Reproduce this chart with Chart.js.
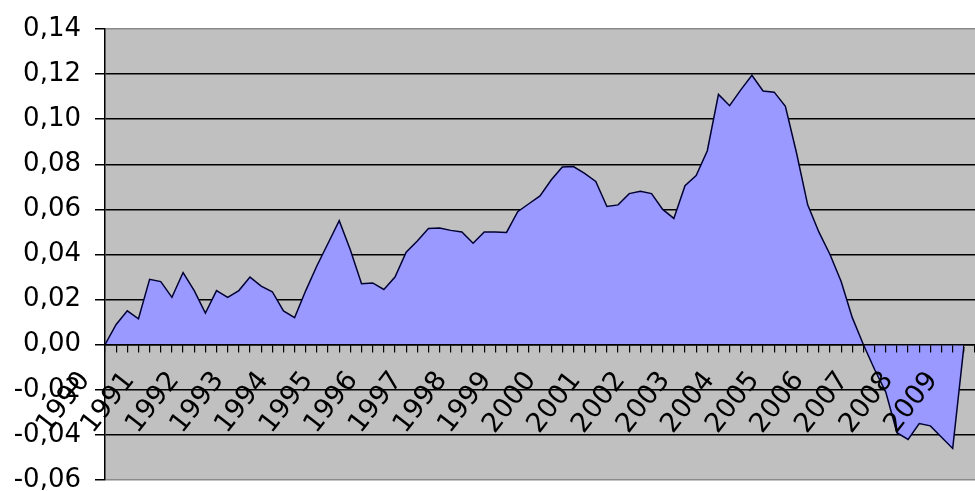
<!DOCTYPE html>
<html>
<head>
<meta charset="utf-8">
<script src="https://cdn.jsdelivr.net/npm/chart.js@4"></script>
<style>
  html, body { margin: 0; padding: 0; background: #ffffff; }
  #wrap { width: 975px; height: 491px; position: relative; }
</style>
</head>
<body>
<div id="wrap"><canvas id="spreadChart"></canvas></div>
<script>
// Year labels, one every 4 quarters
const yearLabels = ['1990', '1991', '1992', '1993', '1994', '1995', '1996', '1997', '1998', '1999',
                    '2000', '2001', '2002', '2003', '2004', '2005', '2006', '2007', '2008', '2009'];
const quartersPerYear = 4;
const categoryCount = 79;

// Quarterly values
const values = [
    0.000, 0.009, 0.015, 0.0115, 0.029, 0.028, 0.021, 0.032, 0.024, 0.014,
    0.024, 0.021, 0.024, 0.030, 0.026, 0.0235, 0.015, 0.012, 0.024, 0.035,
    0.045, 0.055, 0.042, 0.027, 0.0274, 0.0245, 0.030, 0.041, 0.046, 0.0515,
    0.0517, 0.0507, 0.050, 0.045, 0.050, 0.050, 0.0498, 0.059, 0.0625, 0.066,
    0.073, 0.0788, 0.079, 0.076, 0.0724, 0.0613, 0.062, 0.067, 0.068, 0.067,
    0.060, 0.056, 0.0705, 0.075, 0.086, 0.111, 0.106, 0.113, 0.1195, 0.1125,
    0.112, 0.1057, 0.085, 0.062, 0.050, 0.040, 0.028, 0.012, 0.000, -0.011,
    -0.021, -0.039, -0.042, -0.035, -0.036, -0.041, -0.046, -0.001, null
];

// Y axis range
const yMin = -0.06;
const yMax = 0.14;
const yStep = 0.02;

// Build category labels: year text on every 4th quarter, blank otherwise
const categories = [];
for (let i = 0; i < categoryCount; i++) {
    const y = i / quartersPerYear;
    categories.push(i % quartersPerYear === 0 && yearLabels[y] ? yearLabels[y] : '');
}

// Grey plot background
const plotBackground = {
    id: 'plotBackground',
    beforeDraw(chart) {
        const { ctx, chartArea } = chart;
        ctx.save();
        ctx.fillStyle = '#c0c0c0';
        ctx.fillRect(chartArea.left, chartArea.top, chartArea.right - chartArea.left, chartArea.bottom - chartArea.top);
        ctx.restore();
    }
};

new Chart(document.getElementById('spreadChart'), {
    type: 'line',
    data: {
        labels: categories,
        datasets: [{
            data: values,
            fill: 'origin',
            backgroundColor: '#9999ff',
            borderColor: '#000033',
            borderWidth: 1.5,
            pointRadius: 0,
            tension: 0
        }]
    },
    options: {
        responsive: true,
        maintainAspectRatio: false,
        animation: false,
        layout: { padding: { top: 29, bottom: 11, left: 0, right: 0 } },
        plugins: {
            legend: { display: false },
            tooltip: { enabled: false }
        },
        scales: {
            x: {
                position: { y: 0 },
                offset: false,
                afterFit(scale) {
                    scale.paddingLeft = 0;
                    scale.paddingRight = 0;
                },
                grid: {
                    z: 1,
                    drawOnChartArea: false,
                    drawTicks: true,
                    tickLength: 7,
                    color: '#000000',
                    lineWidth: 1.2
                },
                border: { z: 1, display: true, color: '#000000', width: 1.5 },
                ticks: {
                    z: 1,
                    autoSkip: false,
                    minRotation: 52,
                    maxRotation: 52,
                    padding: 14,
                    labelOffset: -20,
                    color: '#000000',
                    font: { family: 'DejaVu Sans', size: 27 }
                }
            },
            y: {
                min: yMin,
                max: yMax,
                afterFit(scale) {
                    scale.width = 105;
                    scale.paddingTop = 0;
                    scale.paddingBottom = 0;
                },
                grid: {
                    color: ctx => (Math.abs(ctx.tick.value - yMax) < 1e-6 || Math.abs(ctx.tick.value - yMin) < 1e-6) ? '#8a8a8a' : '#000000',
                    lineWidth: 1.5,
                    tickColor: '#000000',
                    tickLength: 10
                },
                border: { display: true, color: '#000000', width: 1.5 },
                ticks: {
                    stepSize: yStep,
                    padding: 14,
                    color: '#000000',
                    font: { family: 'DejaVu Sans', size: 26 },
                    callback: v => v.toFixed(2).replace('.', ',')
                }
            }
        }
    },
    plugins: [plotBackground]
});
</script>
</body>
</html>
